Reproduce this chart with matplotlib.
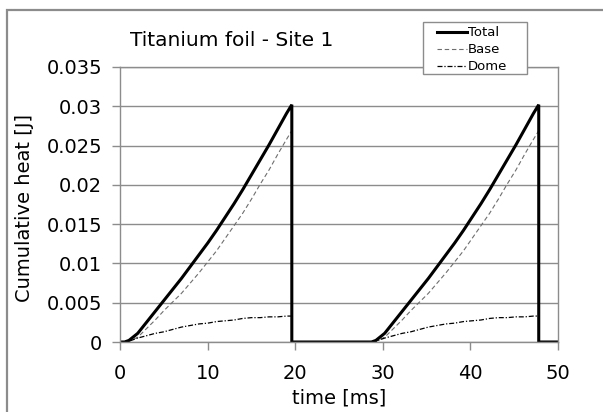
import matplotlib
matplotlib.use("Agg")
import matplotlib.pyplot as plt
from matplotlib.patches import Rectangle
from matplotlib.lines import Line2D

# time axis [ms] and cumulative heat [J] (two identical pulses)
time_ms = [0, 0.5, 1, 2, 3, 4, 5, 6, 7, 8, 9, 10, 11, 12, 13, 14, 15, 16, 17, 18, 19, 19.6, 19.6,
           28.2, 28.7, 29.2, 30.2, 31.2, 32.2, 33.2, 34.2, 35.2, 36.2, 37.2, 38.2, 39.2, 40.2,
           41.2, 42.2, 43.2, 44.2, 45.2, 46.2, 47.2, 47.8, 47.8, 50]
total_pulse = [0, 0, 0.0002, 0.0011, 0.0025, 0.0039, 0.0053, 0.0067, 0.0081, 0.0096, 0.0111, 0.0126,
               0.0142, 0.0159, 0.0176, 0.0194, 0.0213, 0.0232, 0.0251, 0.0271, 0.0291, 0.0302, 0]
base_pulse = [0, 0, 0.0001, 0.0006, 0.0017, 0.0028, 0.0040, 0.0051, 0.0062, 0.0075, 0.0088, 0.0102,
              0.0116, 0.0132, 0.0148, 0.0164, 0.0182, 0.0201, 0.0219, 0.0239, 0.0258, 0.0269, 0]
dome_pulse = [0, 0, 0.0001, 0.0005, 0.0008, 0.0011, 0.0013, 0.0016, 0.0019, 0.0021, 0.0023, 0.0024,
              0.0026, 0.0027, 0.0028, 0.0030, 0.0031, 0.0031, 0.0032, 0.0032, 0.0033, 0.0033, 0]
total = total_pulse + total_pulse + [0]
base = base_pulse + base_pulse + [0]
dome = dome_pulse + dome_pulse + [0]

x_ticks = [0, 10, 20, 30, 40, 50]
y_ticks = [0, 0.005, 0.01, 0.015, 0.02, 0.025, 0.03, 0.035]
y_labels = ["0", "0.005", "0.01", "0.015", "0.02", "0.025", "0.03", "0.035"]

W, H = 603, 412
fig = plt.figure(figsize=(W / 100, H / 100), dpi=100)
ax = fig.add_axes([120.2 / W, 1 - 342 / H, (558 - 120.2) / W, (342 - 67) / H])

grey = "#8c8c8c"
base_style = dict(color="#6e6e6e", lw=0.8, ls=(0, (4, 2.5)))
dome_style = dict(color="black", lw=0.9, ls=(0, (4, 1.5, 1, 1.5)))
total_style = dict(color="black", lw=2.2)

ax.plot(time_ms, base, **base_style)
ax.plot(time_ms, dome, **dome_style)
ax.plot(time_ms, total, solid_joinstyle="miter", **total_style)

ax.set_xlim(0, 50)
ax.set_ylim(0, 0.035)
ax.set_xticks(x_ticks)
ax.set_yticks(y_ticks)
ax.set_yticklabels(y_labels)
ax.tick_params(direction="out", length=6, width=1, color=grey, labelsize=14)
ax.tick_params(axis="x", pad=10)
ax.tick_params(axis="y", pad=7)
ax.grid(axis="y", color=grey, lw=1)
for s in ax.spines.values():
    s.set_color(grey)
    s.set_linewidth(1)

fig.text(339 / W, 1 - 398 / H, "time [ms]", fontsize=14, ha="center", va="center")
fig.text(25 / W, 1 - 208 / H, "Cumulative heat [J]", fontsize=14, rotation=90,
         ha="center", va="center")
fig.text(232 / W, 1 - 41 / H, "Titanium foil - Site 1", fontsize=14.5, ha="center", va="center")

# legend box
fig.patches.append(Rectangle((423 / W, 1 - 74 / H), 104 / W, 52 / H, transform=fig.transFigure,
                             facecolor="white", edgecolor=grey, lw=1, zorder=5))
for y, name, style in [(32, "Total", total_style), (49.3, "Base", base_style), (66, "Dome", dome_style)]:
    fig.lines.append(Line2D([436.7 / W, 466.7 / W], [1 - y / H, 1 - y / H],
                            transform=fig.transFigure, zorder=6, **style))
    fig.text(468 / W, 1 - y / H, name, fontsize=9.5, ha="left", va="center", zorder=6)

# outer chart border
fig.patches.append(Rectangle((7 / W, -0.5), 2, 1.5 - 9.5 / H, transform=fig.transFigure,
                             fill=False, edgecolor=grey, lw=1.6))

fig.savefig("out.png", dpi=100)
